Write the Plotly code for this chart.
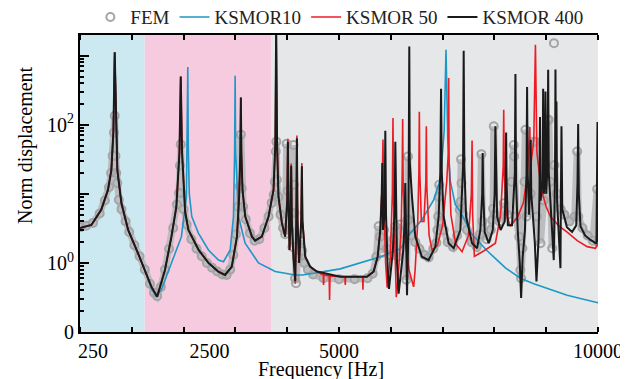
import plotly.graph_objects as go

# ---------------- data ----------------
k400_f = [0, 220, 410, 540, 605, 645, 670, 695, 721, 800, 930, 1120, 1250, 1380, 1490, 1640, 1765, 1860,
          1920, 1945, 1970, 2030, 2093, 2290, 2480, 2670, 2800, 2930, 3030, 3072, 3095, 3105, 3115, 3137,
          3190, 3320, 3380, 3510, 3640, 3736, 3770, 3787, 3805, 3832, 3897, 3961, 4000, 4013, 4025, 4045,
          4065, 4077, 4090, 4120, 4155, 4175, 4187, 4200, 4230, 4270, 4283, 4295, 4348, 4444, 4574, 5024,
          5540, 5668, 5746, 5797, 5825, 5836, 5850, 5880, 5894, 5908, 5940, 5965, 6040, 6075, 6087, 6098,
          6120, 6151, 6240, 6268, 6280, 6295, 6313, 6340, 6350, 6357, 6365, 6409, 6473, 6600, 6730, 6860,
          6924, 6955, 6970, 6985, 7020, 7117, 7214, 7343, 7395, 7407, 7420, 7453, 7569, 7666, 7729, 7765,
          7774, 7785, 7813, 7890, 7968, 8005, 8019, 8033, 8052, 8120, 8200, 8218, 8226, 8235, 8260, 8340,
          8395, 8406, 8418, 8450, 8490, 8516, 8545, 8590, 8620, 8631, 8642, 8670, 8690, 8700, 8712, 8780,
          8812, 8850, 8870, 8880, 8892, 8930, 8941, 8955, 8975, 8986, 9000, 9025, 9038, 9050, 9100, 9146,
          9170, 9179, 9188, 9198, 9210, 9250, 9275, 9285, 9295, 9310, 9400, 9500, 9580, 9605, 9617, 9630,
          9662, 9750, 9855, 9970, 9990, 10000]
k400_v = [3.2, 3.55, 5.9, 11.4, 22, 80, 1120, 80, 22, 7.3, 3.0, 1.38, 0.79, 0.45, 0.325, 0.79, 2.4, 6.5,
          40, 500, 40, 5.5, 3.0, 1.54, 1.0, 0.75, 0.67, 0.88, 2.4, 9.1, 40, 249, 40, 11.4,
          4.7, 2.4, 2.1, 2.4, 4.7, 11.4, 50, 2500, 50, 9.1, 3.8, 2.4, 8, 57, 8, 1.54,
          4, 25.5, 4, 1.2, 0.55, 4, 64, 4, 1.0, 4, 25, 4, 1.23, 0.88, 0.75, 0.63,
          0.63, 0.75, 1.23, 3.0, 10, 28, 3, 5, 82, 5, 0.8, 0.42, 1.5, 6, 57, 6,
          1, 0.36, 1.5, 4, 14.3, 3, 0.34, 3, 30, 1365, 30, 9.1, 2.4, 1.23, 1.1, 1.72,
          4.7, 20, 332, 20, 4.7, 1.93, 1.63, 3.0, 25, 1180, 25, 4.7, 1.93, 1.63, 3.0, 10,
          39, 10, 2.8, 1.93, 3.0, 10, 95, 10, 4.7, 3.0, 4, 15, 77, 15, 3.5, 3.5,
          20, 545, 15, 3, 1, 0.31, 1.2, 3, 20, 351, 20, 5, 15, 60, 10, 2,
          0.54, 2, 10, 130, 8, 15, 332, 10, 20, 303, 10, 25, 626, 20, 4, 1.1,
          20, 631, 15, 217, 8, 2, 0.84, 10, 95, 6, 3.3, 2.8, 3.5, 15, 103, 10,
          3.4, 2.5, 2.15, 1.9, 110, 2]

k50_f = [0, 220, 410, 540, 605, 645, 670, 695, 721, 800, 930, 1120, 1250, 1380, 1490, 1640, 1765, 1860,
         1920, 1945, 1970, 2030, 2093, 2290, 2480, 2670, 2800, 2930, 3030, 3072, 3095, 3105, 3115, 3137,
         3190, 3320, 3380, 3510, 3640, 3736, 3770, 3787, 3805, 3832, 3897, 3961, 4000, 4013, 4025, 4045,
         4065, 4077, 4090, 4120, 4155, 4175, 4187, 4200, 4230, 4270, 4283, 4295, 4348, 4444, 4574, 4695,
         4702, 4709, 4810, 4818, 4826, 5024, 5114, 5121, 5128, 5455, 5462, 5469, 5540, 5668, 5746, 5797,
         5835, 5849, 5862, 5900, 5930, 5990, 6030, 6042, 6054, 6085, 6106, 6140, 6200, 6220, 6229, 6238,
         6280, 6350, 6441, 6470, 6520, 6542, 6551, 6560, 6590, 6640, 6676, 6686, 6696, 6740, 6796, 6900,
         7000, 7080, 7110, 7117, 7125, 7160, 7250, 7375, 7500, 7555, 7569, 7580, 7600, 7614, 7800, 8019,
         8120, 8170, 8180, 8190, 8230, 8309, 8450, 8560, 8640, 8683, 8700, 8760, 8792, 8820, 8900, 9000,
         9082, 9250, 9404, 9600, 9791, 9952, 10000]
k50_v = [3.2, 3.55, 5.9, 11.4, 22, 80, 1120, 80, 22, 7.3, 3.0, 1.38, 0.79, 0.45, 0.325, 0.79, 2.4, 6.5,
         40, 500, 40, 5.5, 3.0, 1.54, 1.0, 0.75, 0.67, 0.88, 2.4, 9.1, 40, 249, 40, 11.4,
         4.7, 2.4, 2.1, 2.4, 4.7, 11.4, 50, 2500, 50, 9.1, 3.8, 2.4, 8.5, 63, 8.5, 1.54,
         4.2, 27.5, 4.2, 1.2, 0.5, 4.2, 70, 4.2, 1.0, 4.2, 28, 4.2, 1.23, 0.88, 0.75, 0.67,
         0.48, 0.67, 0.65, 0.29, 0.65, 0.63, 0.63, 0.48, 0.63, 0.63, 0.41, 0.63, 0.63, 0.75, 1.23, 3.0,
         15, 61, 10, 1.0, 0.44, 1.2, 10, 125, 8, 0.8, 0.32, 0.6, 3, 20, 121, 15,
         2, 0.8, 0.45, 0.8, 4, 20, 155, 20, 4, 4, 15, 95, 12, 2.5, 1.54, 1.8,
         3.5, 15, 40, 475, 30, 5, 1.9, 1.45, 2.5, 10, 59, 5, 1.5, 1.24, 1.5, 1.93,
         5, 25, 165, 20, 5, 3.4, 4.7, 7.4, 20, 93, 25, 60, 1440, 40, 12, 6.5,
         4.7, 3.4, 2.8, 2.1, 1.72, 1.63, 1.93]

k10_f = [0, 220, 410, 540, 605, 645, 670, 695, 721, 800, 930, 1120, 1250, 1380, 1470, 1571, 1765, 1958,
         2054, 2072, 2081, 2090, 2110, 2158, 2286, 2480, 2673, 2770, 2899, 2963, 2985, 2995, 3005, 3060,
         3188, 3446, 3768, 4155, 4300, 5024, 5800, 6184, 6377, 6600, 6828, 6957, 7030, 7066, 7100, 7150,
         7246, 7343, 7569, 7859, 8213, 8502, 8760, 9404, 10000]
k10_v = [3.2, 3.55, 5.9, 11.4, 22, 80, 1120, 80, 22, 7.3, 3.0, 1.38, 0.79, 0.42, 0.33, 0.41, 1.0, 2.4,
         9.1, 60, 686, 50, 10, 4.7, 2.7, 1.54, 1.1, 1.04, 1.54, 4.7, 40, 513, 40, 4.7,
         1.93, 1.0, 0.75, 0.67, 0.67, 0.82, 1.23, 1.6, 2.7, 4.2, 8.2, 16, 80, 1222, 60, 15,
         7, 5.5, 2.6, 1.5, 0.85, 0.6, 0.5, 0.34, 0.265]

fem_f = [10, 120, 250, 380, 480, 560, 600, 630, 655, 670, 685, 700, 720, 750, 800, 880, 950, 1050, 1150,
         1250, 1350, 1430, 1490, 1560, 1640, 1720, 1800, 1870, 1910, 1930, 1945, 1960, 2000, 2060, 2150,
         2250, 2350, 2450, 2550, 2650, 2750, 2830, 2900, 2960, 3010, 3050, 3080, 3105, 3120, 3150, 3200,
         3280, 3370, 3460, 3560, 3640, 3700, 3740, 3760, 3780, 3790, 3800, 3830, 3870, 3920, 3960, 3990,
         4010, 4040, 4070, 4100, 4122, 4128, 4140, 4150, 4170, 4200, 4250, 4290, 4330, 4400, 4500, 4700,
         5000, 5300, 5550, 5650, 5720, 5765, 5790, 5830, 5870, 5920, 5980, 6050, 6090, 6130, 6180, 6250,
         6300, 6320, 6331, 6345, 6400, 6473, 6550, 6650, 6730, 6820, 6880, 6900, 6915, 6925, 6935, 6960,
         7020, 7100, 7200, 7280, 7330, 7345, 7356, 7365, 7400, 7470, 7560, 7660, 7720, 7749, 7770, 7850,
         7930, 7960, 7975, 7987, 8010, 8100, 8180, 8250, 8330, 8374, 8380, 8420, 8480, 8502, 8515, 8540,
         8580, 8599, 8620, 8700, 8760, 8792, 8820, 8889, 8950, 9030, 9050, 9080, 9115, 9146, None, 9150,
         None, 9160, 9200, 9280, 9350, 9450, 9550, 9598, 9620, 9700, 9800, 9900, 9984, 10000]
fem_v = [3.3, 3.45, 3.8, 5.2, 8, 12.5, 20, 35.5, 77, 135, 35.5, 20, 14.4, 8.2, 6.0, 4.0, 2.8, 1.8, 1.25,
         0.8, 0.5, 0.37, 0.33, 0.45, 0.8, 1.6, 3.2, 7, 10.3, 25.6, 52, 10.3, 6, 3.6, 2.2,
         1.6, 1.25, 1.0, 0.85, 0.75, 0.68, 0.67, 0.8, 1.3, 2.6, 6.5, 12.8, 72, 12, 6.5, 4.3,
         2.7, 2.1, 2.2, 3.2, 4.7, 7.4, 9.7, 15, 41, 57, 16, 9, 5, 3.2, 2.6, 53,
         11, 3, 5.3, 1.7, 51, 13.5, 5.3, 0.6, 0.51, 1.2, 2.1, 1.5, 1.0, 0.8, 0.68, 0.6,
         0.58, 0.58, 0.6, 0.7, 1.23, 3.4, 2.4, 1.4, 3.0, 1.6, 1.3, 2.2, 3.4, 1.23, 3.6, 2.7,
         0.57, 4.2, 34.7, 4.2, 2.5, 2.0, 1.6, 1.3, 1.2, 1.6, 1.95, 3.0, 4.7, 9.1, 13.5, 4,
         3, 2, 1.7, 2.5, 5.9, 7.7, 31.6, 14.3, 5, 3, 2, 1.7, 2.6, 37.6, 4, 2.2,
         3, 4.2, 6.1, 95, 5, 4, 7.3, 5, 15, 51, 34.7, 4.7, 2.4, 0.79, 0.6, 1.63,
         15, 85, 4.7, 10, 57, 57, 4.7, 1.93, 8, 116, 118, 15, 1.63, 26, None, 1520,
         None, 26, 10, 6, 5, 4, 4.7, 41, 4.7, 3.2, 2.5, 2.1, 11.7, 2.0]

x_tick_vals = [250, 2500, 5000, 10000]
x_tick_text = ["250", "2500", "5000", "10000"]
y_tick_vals = [0.1, 1, 10, 100, 1000]
y_tick_text = ["0", "10<sup>0</sup>", "", "10<sup>2</sup>", ""]
band_edges = [0, 1250, 3700, 10000]
band_colors = ["#cce9f1", "#f6cbe0", "#e6e7e9"]

BLUE = "#1d97c6"
RED = "#ec1c24"
BLACK = "#1a1a1a"
GRAY = "#a4a5a7"
FONT = "Liberation Serif, Times New Roman, serif"

fig = go.Figure()

fig.add_trace(go.Scatter(x=fem_f, y=fem_v, mode="lines", line=dict(color="#bcbdbf", width=7),
                         showlegend=False, hoverinfo="skip", connectgaps=False))
fig.add_trace(go.Scatter(x=fem_f, y=fem_v, mode="markers", name="FEM",
                         marker=dict(symbol="circle-open", size=8, color=GRAY, line=dict(width=2, color=GRAY))))
fig.add_trace(go.Scatter(x=k10_f, y=k10_v, mode="lines", name="KSMOR10", line=dict(color=BLUE, width=1.6)))
fig.add_trace(go.Scatter(x=k50_f, y=k50_v, mode="lines", name="KSMOR 50", line=dict(color=RED, width=1.6)))
fig.add_trace(go.Scatter(x=k400_f, y=k400_v, mode="lines", name="KSMOR 400", line=dict(color=BLACK, width=2)))

for i, c in enumerate(band_colors):
    fig.add_shape(type="rect", xref="x", yref="paper", x0=band_edges[i], x1=band_edges[i + 1], y0=0, y1=1,
                  fillcolor=c, line=dict(width=0), layer="below")

# the page body adds an 8px offset, compensated in the margins
fig.update_layout(
    width=628, height=379,
    margin=dict(l=72, r=38, t=27, b=55, autoexpand=False),
    plot_bgcolor="white", paper_bgcolor="white",
    font=dict(family=FONT, size=20, color="black"),
    showlegend=True,
    legend=dict(orientation="h", x=0.02, xanchor="left", y=1.06, yanchor="middle",
                font=dict(family=FONT, size=19, color="#222"), bgcolor="rgba(0,0,0,0)",
                itemwidth=30, tracegroupgap=0),
    xaxis=dict(range=[0, 10000], tickmode="array", tickvals=x_tick_vals, ticktext=x_tick_text,
               ticks="", showline=True, linecolor="black", linewidth=2, mirror="ticks",
               showgrid=False, zeroline=False,
               minor=dict(dtick=1000, tick0=0, ticks="inside", ticklen=5, tickwidth=2, tickcolor="black"),
               tickfont=dict(size=20)),
    yaxis=dict(type="log", range=[-1, 3.3], tickmode="array", tickvals=y_tick_vals, ticktext=y_tick_text,
               ticks="inside", ticklen=9, tickwidth=2, tickcolor="black",
               showline=True, linecolor="black", linewidth=2, showgrid=False, zeroline=False,
               minor=dict(ticks="inside", ticklen=4, tickwidth=1.5, tickcolor="black", dtick="D1"),
               tickfont=dict(size=20)),
    yaxis2=dict(type="log", range=[-1, 3.3], overlaying="y", side="right", tickmode="array",
                tickvals=y_tick_vals, showticklabels=False, ticks="inside", ticklen=9, tickwidth=2,
                tickcolor=BLUE, showline=True, linecolor="black", linewidth=2, showgrid=False,
                zeroline=False,
                minor=dict(ticks="inside", ticklen=4, tickwidth=1.5, tickcolor=BLUE, dtick="D1")),
)

fig.add_annotation(text="Norm displacement", xref="paper", yref="paper", x=-0.104, y=0.63,
                   textangle=-90, showarrow=False, font=dict(family=FONT, size=20, color="black"),
                   xanchor="center", yanchor="middle")
fig.add_annotation(text="Frequency [Hz]", xref="paper", yref="paper", x=0.465, y=-0.126,
                   showarrow=False, font=dict(family=FONT, size=20, color="black"),
                   xanchor="center", yanchor="middle")

fig.write_html("out.html")
